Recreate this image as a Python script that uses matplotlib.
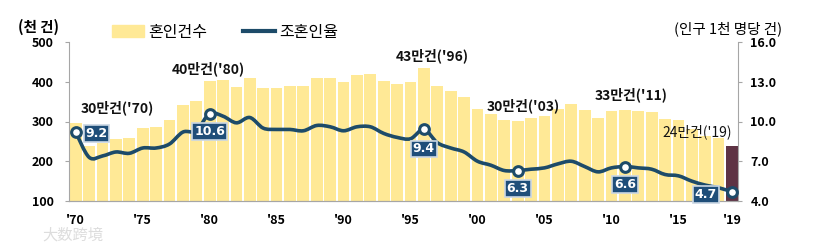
import numpy as np
import matplotlib
matplotlib.use("Agg")
import matplotlib.pyplot as plt
from matplotlib.path import Path
from matplotlib.patches import PathPatch, Patch
from matplotlib.lines import Line2D

plt.rcParams['font.family'] = ['Noto Sans CJK KR', 'DejaVu Sans']

years = list(range(1970, 2020))
marriages = [295.1, 239.5, 244.8, 257.0, 259.1, 283.2, 287.4, 304.6, 340.6, 351.1,
             403.0, 405.0, 386.1, 410.0, 385.5, 384.7, 388.4, 388.4, 409.0, 408.5,
             399.3, 416.9, 419.8, 402.6, 393.1, 398.5, 434.9, 388.6, 375.6, 362.7,
             332.1, 318.4, 304.9, 302.5, 308.6, 314.3, 330.6, 343.6, 327.7, 309.8,
             326.1, 329.1, 327.1, 322.8, 305.5, 302.8, 281.6, 264.5, 257.6, 239.2]
rate = [9.2, 7.3, 7.4, 7.7, 7.6, 8.0, 8.0, 8.3, 9.2, 9.3,
        10.6, 10.4, 9.9, 10.3, 9.5, 9.4, 9.4, 9.3, 9.7, 9.6,
        9.3, 9.6, 9.6, 9.1, 8.8, 8.7, 9.4, 8.4, 8.0, 7.7,
        7.0, 6.7, 6.3, 6.3, 6.4, 6.5, 6.8, 7.0, 6.6, 6.2,
        6.5, 6.6, 6.5, 6.4, 6.0, 5.9, 5.5, 5.2, 5.0, 4.7]
tick_years = [1970, 1975, 1980, 1985, 1990, 1995, 2000, 2005, 2010, 2015, 2019]
tick_labels = ["'70", "'75", "'80", "'85", "'90", "'95", "'00", "'05", "'10", "'15", "'19"]
count_notes = {1970: "30만건('70)", 1980: "40만건('80)", 1996: "43만건('96)",
               2003: "30만건('03)", 2011: "33만건('11)", 2019: "24만건('19)"}
rate_marks = [1970, 1980, 1996, 2003, 2011, 2019]

bar_col = '#FFE996'
last_col = '#5E3344'
line_col = '#1D4B69'
box_col = '#1F4E79'
grey = '#A6A6A6'

fig = plt.figure(figsize=(8.14, 2.42), dpi=100)
ax = fig.add_axes([69/814, 1-201/242, (738-69)/814, (201-42)/242])
ax2 = ax.twinx()

x = np.arange(len(years))
colors = [bar_col] * (len(years) - 1) + [last_col]
ax.bar(x, [m - 100 for m in marriages], bottom=100, width=0.88, color=colors, zorder=1)
ax.set_ylim(100, 500)
ax.set_xlim(-0.5, 49.45)
ax.set_yticks([100, 200, 300, 400, 500])
ax.set_xticks([years.index(y) for y in tick_years])
ax.set_xticklabels(tick_labels)
for a in (ax, ax2):
    for s in a.spines.values():
        s.set_color(grey)
    a.spines['top'].set_visible(False)
ax.spines['right'].set_visible(False)
ax2.spines['left'].set_visible(False)
ax.tick_params(axis='y', length=3, color=grey, pad=8, labelsize=9)
ax.tick_params(axis='x', length=0, pad=9, labelsize=9)
for t in ax.get_yticklabels() + ax.get_xticklabels():
    t.set_fontweight('bold')

ax2.set_ylim(4, 16)
ax2.set_yticks([4, 7, 10, 13, 16])
ax2.set_yticklabels(['4.0', '7.0', '10.0', '13.0', '16.0'])
ax2.tick_params(axis='y', length=3, color=grey, pad=6, labelsize=9)
for t in ax2.get_yticklabels():
    t.set_fontweight('bold')

# smooth line through the rate values (Catmull-Rom as bezier segments)
pts = np.column_stack([x, rate])
verts = [tuple(pts[0])]
codes = [Path.MOVETO]
n = len(pts)
for i in range(n - 1):
    p0 = pts[max(i - 1, 0)]
    p1 = pts[i]
    p2 = pts[i + 1]
    p3 = pts[min(i + 2, n - 1)]
    c1 = p1 + (p2 - p0) / 6
    c2 = p2 - (p3 - p1) / 6
    verts += [tuple(c1), tuple(c2), tuple(p2)]
    codes += [Path.CURVE4] * 3
ax2.add_patch(PathPatch(Path(verts, codes), fill=False, edgecolor=line_col, lw=2.6,
                        capstyle='round', joinstyle='round', zorder=3))

mk = [years.index(y) for y in rate_marks]
ax2.plot(mk, [rate[i] for i in mk], 'o', ms=7, mfc='white', mec=line_col, mew=2.2, zorder=4)

# rate value boxes
offsets = {1970: (15, -1), 1980: (0, -13), 1996: (0, -14), 2003: (0, -13),
           2011: (0, -13), 2019: (-19, -2)}
for yr in rate_marks:
    i = years.index(yr)
    dx, dy = offsets[yr]
    ax2.annotate(f"{rate[i]:.1f}", (i, rate[i]), xytext=(dx, dy), textcoords='offset points',
                 ha='center', va='center', color='white', fontsize=9, fontweight='bold',
                 family='DejaVu Sans',
                 bbox=dict(boxstyle='square,pad=0.15', fc=box_col, ec='#C9D6E3', lw=1.2),
                 zorder=6)

# marriage count notes
note_pos = {1970: (3.1, 335), 1980: (9.9, 432), 1996: (26.6, 465),
            2003: (33.4, 340), 2011: (41.5, 367), 2019: (46.4, 273)}
for yr, txt in count_notes.items():
    xx, yy = note_pos[yr]
    ax.text(xx, yy, txt, ha='center', va='center', fontsize=10,
            fontweight='normal' if yr == 2019 else 'bold', color='#111111', zorder=7)

fig.text(38/814, 1-27/242, '(천 건)', ha='center', va='center', fontsize=10.5, fontweight='bold')
fig.text(728/814, 1-29/242, '(인구 1천 명당 건)', ha='center', va='center', fontsize=10.5)

handles = [Patch(color=bar_col), Line2D([0], [0], color=line_col, lw=3)]
fig.legend(handles, ['혼인건수', '조혼인율'], loc='center', bbox_to_anchor=(225/814, 1-32/242),
           ncol=2, frameon=False, fontsize=11.5, handlelength=2.0, handleheight=0.7,
           columnspacing=2.2, handletextpad=0.3)

fig.text(42/814, 1-235/242, '大数跨境', ha='left', va='center', fontsize=11, color='#DDDDDD')

fig.savefig('out.png', dpi=100)
